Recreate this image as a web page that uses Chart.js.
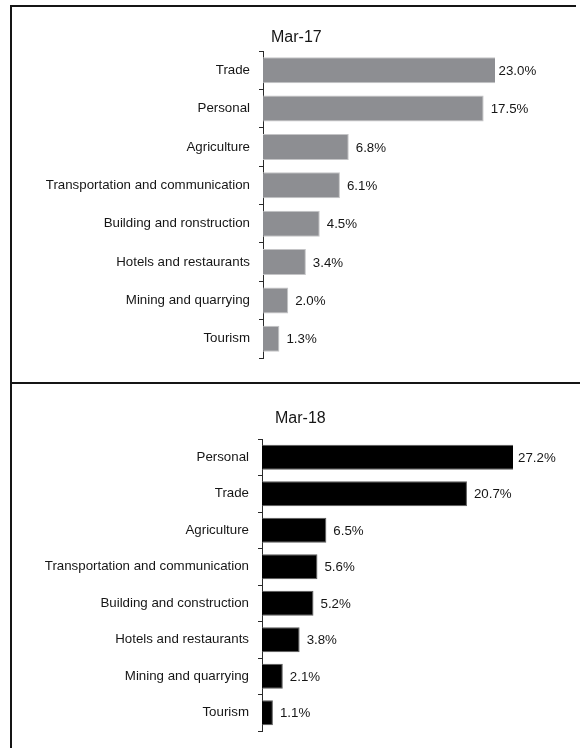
<!DOCTYPE html>
<html>
<head>
<meta charset="utf-8">
<script src="https://cdn.jsdelivr.net/npm/chart.js@4/dist/chart.umd.min.js"></script>
<style>
  html, body { margin: 0; padding: 0; background: #fff; }
  #page { position: relative; width: 580px; height: 748px; overflow: hidden; background: #fff; }
  canvas { position: absolute; left: 0; }
  #c17 { top: 0; }
  #c18 { top: 383px; }
  .rule { position: absolute; background: #151515; }
</style>
</head>
<body>
<div id="page">
  <canvas id="c17" width="580" height="383"></canvas>
  <canvas id="c18" width="580" height="365"></canvas>
  <div class="rule" style="left:10px; top:5px; width:566px; height:2px;"></div>
  <div class="rule" style="left:10px; top:5px; width:2px; height:743px;"></div>
  <div class="rule" style="left:10px; top:382px; width:570px; height:2px;"></div>
</div>
<script>
// Loan shares by sector, March 2017
const sectorsMar17 = ['Trade', 'Personal', 'Agriculture', 'Transportation and communication',
  'Building and ronstruction', 'Hotels and restaurants', 'Mining and quarrying', 'Tourism'];
const sharesMar17 = [23.0, 17.5, 6.8, 6.1, 4.5, 3.4, 2.0, 1.3];

// Loan shares by sector, March 2018
const sectorsMar18 = ['Personal', 'Trade', 'Agriculture', 'Transportation and communication',
  'Building and construction', 'Hotels and restaurants', 'Mining and quarrying', 'Tourism'];
const sharesMar18 = [27.2, 20.7, 6.5, 5.6, 5.2, 3.8, 2.1, 1.1];

// Value-axis ceilings (the largest bar runs off the plot edge)
const axisMaxMar17 = 18.4;
const axisMaxMar18 = 25.35;

const FONT = '"Liberation Sans", Arial, sans-serif';
const TEXT = '#161616';
const LABEL_SIZE = 13.3;

// Writes the panel heading just above the plot, near the axis
const panelTitle = {
  id: 'panelTitle',
  afterDraw(chart, args, opts) {
    const { ctx, chartArea } = chart;
    ctx.save();
    ctx.font = '16px ' + FONT;
    ctx.fillStyle = TEXT;
    ctx.textAlign = 'left';
    ctx.textBaseline = 'middle';
    ctx.fillText(opts.text, chartArea.left + opts.dx, chartArea.top + opts.dy);
    ctx.restore();
  }
};

// Percentage label after each bar; bars cut by the plot edge get a tighter gap
const valueLabels = {
  id: 'valueLabels',
  afterDatasetsDraw(chart, args, opts) {
    const { ctx, chartArea } = chart;
    const ds = chart.data.datasets[0];
    const meta = chart.getDatasetMeta(0);
    ctx.save();
    ctx.font = LABEL_SIZE + 'px ' + FONT;
    ctx.fillStyle = TEXT;
    ctx.textAlign = 'left';
    ctx.textBaseline = 'middle';
    meta.data.forEach((bar, i) => {
      const clipped = bar.x > chartArea.right;
      const end = Math.min(bar.x, chartArea.right);
      const gap = clipped ? opts.clippedGap : 7;
      ctx.fillText(ds.data[i].toFixed(1) + '%', end + gap, bar.y + 1);
    });
    ctx.restore();
  }
};

function sectorChart(canvasId, labels, values, axisMax, fill, edge, title, pad, titleOffset, axisLeft, clippedGap) {
  return new Chart(document.getElementById(canvasId), {
    type: 'bar',
    data: {
      labels: labels,
      datasets: [{
        data: values,
        backgroundColor: fill,
        borderColor: edge,
        borderWidth: 1,
        borderSkipped: 'start',
        barPercentage: 0.68,
        categoryPercentage: 1.0,
        clip: 0
      }]
    },
    options: {
      indexAxis: 'y',
      responsive: false,
      animation: false,
      events: [],
      layout: { padding: pad },
      scales: {
        x: { display: false, min: 0, max: axisMax },
        y: {
          afterFit(scale) { scale.width = axisLeft; },
          grid: { offset: true, drawOnChartArea: false, drawTicks: true, tickLength: 4, color: '#2a2a2a', lineWidth: 1 },
          border: { display: true, color: '#2a2a2a', width: 1 },
          ticks: { color: TEXT, padding: 9, font: { family: FONT, size: LABEL_SIZE } }
        }
      },
      plugins: {
        legend: { display: false },
        tooltip: { enabled: false },
        panelTitle: { text: title, dx: titleOffset[0], dy: titleOffset[1] },
        valueLabels: { clippedGap: clippedGap }
      }
    },
    plugins: [panelTitle, valueLabels]
  });
}

sectorChart('c17', sectorsMar17, sharesMar17, axisMaxMar17, '#8d8e92', '#c4c4c6', 'Mar-17',
  { top: 51, bottom: 25, left: 0, right: 85 }, [8, -13], 263, 3.5);

sectorChart('c18', sectorsMar18, sharesMar18, axisMaxMar18, '#000000', '#5a5a5a', 'Mar-18',
  { top: 56, bottom: 11, left: 0, right: 67 }, [13, -20.5], 262, 5);
</script>
</body>
</html>
